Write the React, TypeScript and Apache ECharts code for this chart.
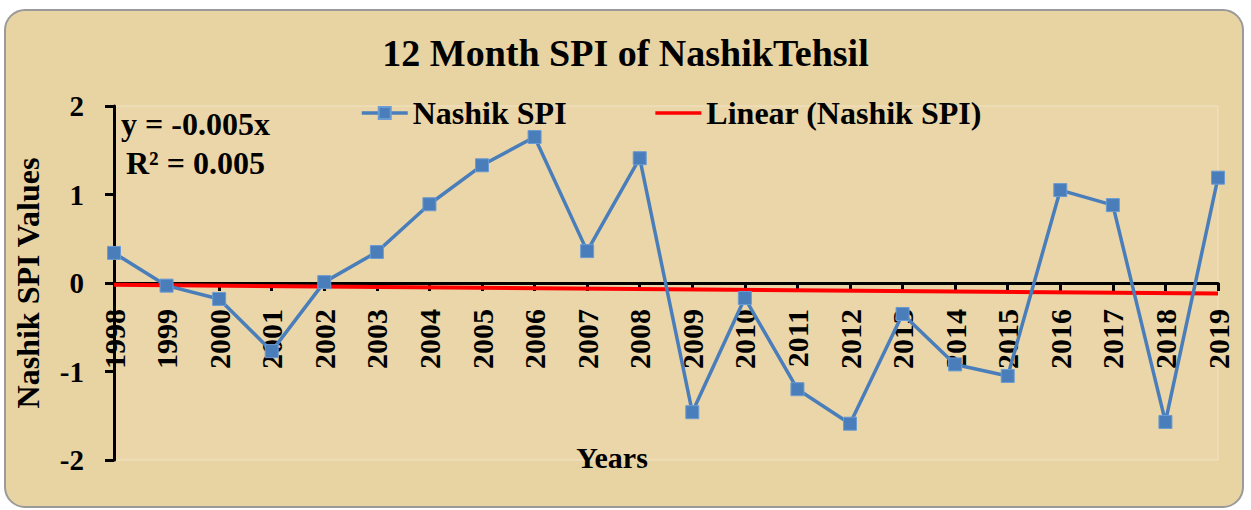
import React, { useEffect, useRef } from "react";
import * as echarts from "echarts";

const years = ["1998","1999","2000","2001","2002","2003","2004","2005","2006","2007","2008","2009","2010","2011","2012","2013","2014","2015","2016","2017","2018","2019"];
const spiValues = [0.34,-0.03,-0.18,-0.77,0.01,0.35,0.89,1.33,1.65,0.36,1.41,-1.46,-0.17,-1.2,-1.59,-0.35,-0.92,-1.05,1.05,0.88,-1.57,1.19];
const trendStart = -0.02;
const trendEnd = -0.12;
const yTicks = [-2, -1, 0, 1, 2];
const equationLines = ["y = -0.005x", "R\u00b2 = 0.005"];
const titleText = "12 Month SPI of NashikTehsil";

const FONT = "'Liberation Serif', 'Times New Roman', serif";

// plot area geometry
const GRID_LEFT = 114;
const GRID_RIGHT = 33;
const GRID_TOP = 106;
const GRID_BOTTOM = 50;
const PLOT_H = 510 - GRID_TOP - GRID_BOTTOM;
const yMin = yTicks[0];
const yMax = yTicks[yTicks.length - 1];
const ZERO_OFFSET = (PLOT_H * (yMax - 0)) / (yMax - yMin);

export default function App() {
  const ref = useRef<HTMLDivElement>(null);
  useEffect(() => {
    document.body.style.margin = "0";
    const chart = echarts.init(ref.current!, null, { renderer: "svg" });
    chart.setOption({
      animation: false,
      backgroundColor: "#ffffff",
      title: {
        text: titleText,
        left: "center",
        top: 29,
        textStyle: { fontFamily: FONT, fontWeight: "bold", fontSize: 38, color: "#000" },
      },
      legend: {
        left: 355,
        top: 92,
        itemWidth: 46,
        itemHeight: 15,
        itemGap: 87,
        textStyle: { fontFamily: FONT, fontWeight: "bold", fontSize: 32, color: "#000" },
        data: [
          { name: "Nashik SPI", lineStyle: { width: 3.5 } },
          { name: "Linear (Nashik SPI)", itemStyle: { opacity: 0 }, lineStyle: { width: 3.5 } },
        ],
      },
      grid: [
        { left: GRID_LEFT, right: GRID_RIGHT, top: GRID_TOP, bottom: GRID_BOTTOM, containLabel: false, outerBoundsMode: "none" },
        { left: GRID_LEFT, right: GRID_RIGHT, top: GRID_TOP, height: ZERO_OFFSET, containLabel: false, outerBoundsMode: "none" },
      ],
      graphic: [
        {
          type: "rect",
          z: -10,
          silent: true,
          shape: { x: 5, y: 10, width: 1238, height: 497, r: 20 },
          style: { fill: "#E8D3A2", stroke: "#9a9a9a", lineWidth: 2 },
        },
        {
          type: "rect",
          z: -9,
          silent: true,
          shape: { x: GRID_LEFT, y: GRID_TOP, width: 1251 - GRID_LEFT - GRID_RIGHT, height: PLOT_H },
          style: { fill: "#EAD6A8", stroke: "#F0E3C4", lineWidth: 1 },
        },
        {
          type: "text",
          x: 121,
          y: 124,
          style: { text: equationLines[0], font: `bold 32px ${FONT}`, fill: "#000", verticalAlign: "middle" },
        },
        {
          type: "text",
          x: 126,
          y: 163,
          style: { text: equationLines[1], font: `bold 32px ${FONT}`, fill: "#000", verticalAlign: "middle" },
        },
        {
          type: "text",
          x: 612,
          y: 457,
          style: { text: "Years", font: `bold 30px ${FONT}`, fill: "#000", align: "center", verticalAlign: "middle" },
        },
      ],
      xAxis: [
        {
          type: "category",
          gridIndex: 0,
          data: years,
          boundaryGap: false,
          show: false,
        },
        {
          type: "category",
          gridIndex: 1,
          data: years,
          boundaryGap: false,
          position: "bottom",
          axisLine: { onZero: false, lineStyle: { color: "#000", width: 3 } },
          axisTick: { show: true, length: 8, lineStyle: { color: "#000", width: 3 } },
          axisLabel: {
            rotate: 90,
            margin: 26,
            interval: 0,
            fontFamily: FONT,
            fontWeight: "bold",
            fontSize: 30,
            color: "#000",
          },
          splitLine: { show: false },
        },
      ],
      yAxis: [
        {
          type: "value",
          gridIndex: 0,
          min: yMin,
          max: yMax,
          interval: 1,
          name: "Nashik SPI Values",
          nameLocation: "middle",
          nameGap: 70,
          nameRotate: 90,
          nameTextStyle: { fontFamily: FONT, fontWeight: "bold", fontSize: 32, color: "#000" },
          axisLine: { show: true, onZero: false, lineStyle: { color: "#000", width: 3 } },
          axisTick: { show: true, length: 9, lineStyle: { color: "#000", width: 3 } },
          axisLabel: { margin: 30, fontFamily: FONT, fontWeight: "bold", fontSize: 29, color: "#000" },
          splitLine: { show: false },
        },
        {
          type: "value",
          gridIndex: 1,
          min: 0,
          max: yMax,
          show: false,
        },
      ],
      series: [
        {
          name: "Linear (Nashik SPI)",
          type: "line",
          xAxisIndex: 0,
          yAxisIndex: 0,
          data: [[years[0], trendStart], [years[years.length - 1], trendEnd]],
          symbol: "none",
          lineStyle: { color: "#FF0000", width: 4 },
          itemStyle: { color: "#FF0000" },
          z: 3,
        },
        {
          name: "Nashik SPI",
          type: "line",
          xAxisIndex: 0,
          yAxisIndex: 0,
          data: spiValues,
          symbol: "rect",
          symbolSize: 13,
          lineStyle: { color: "#4A7EBB", width: 3.5 },
          itemStyle: { color: "#4A7EBB", borderColor: "#6A9BD3", borderWidth: 1 },
          z: 4,
        },
      ],
    });
    return () => chart.dispose();
  }, []);
  return <div ref={ref} style={{ width: 1251, height: 510 }} />;
}
